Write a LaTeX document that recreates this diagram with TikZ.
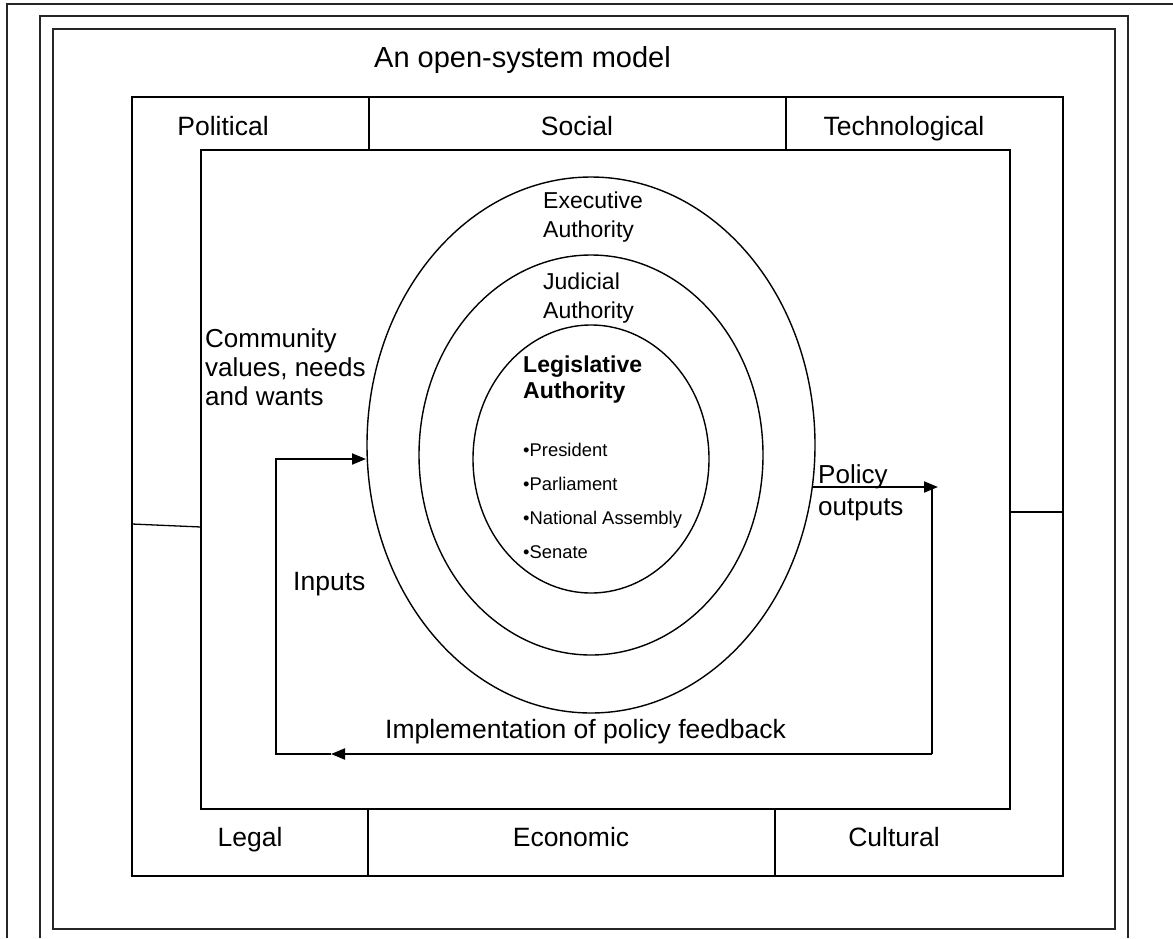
\documentclass[tikz,border=0pt]{standalone}
\usepackage{fontspec}
\setmainfont{Liberation Sans}
\usetikzlibrary{arrows.meta,shapes.geometric}
\begin{document}
\begin{tikzpicture}[x=1pt,y=-1pt,
  frame/.style={draw=black!85,line width=1.6pt},
  boxline/.style={draw=black,line width=1.3pt},
  oval/.style={ellipse,draw=black,line width=1.4pt,inner sep=0pt},
  flow/.style={draw=black,line width=2pt},
  tip/.style={-{Triangle[length=14pt,width=11pt]}},
  lbl/.style={font=\fontsize{26.5}{30}\selectfont,inner sep=0pt},
  ring/.style={font=\fontsize{23}{29}\selectfont,inner sep=0pt,align=left,anchor=north west},
]
\useasboundingbox (0,0) rectangle (1173,938);
\fill[white] (0,0) rectangle (1173,938);
% page frames
\draw[frame] (1173,4) -- (7,4) -- (7,938);
\draw[frame] (40,938) -- (40,16) -- (1128,16) -- (1128,938);
\draw[frame] (53,29) rectangle (1115,929);
% environment boxes
\node[boxline,minimum width=931pt,minimum height=779pt,inner sep=0pt] (env) at (597.5,486.5) {};
\node[boxline,minimum width=809pt,minimum height=659pt,inner sep=0pt] (sys) at (605.5,479.5) {};
\draw[boxline] (369,97) -- (369,150);
\draw[boxline] (786,97) -- (786,150);
\draw[boxline] (368,809) -- (368,876);
\draw[boxline] (775,809) -- (775,876);
\draw[boxline] (132,524) -- (201,527);
\draw[boxline] (1010,512) -- (1063,512);
% title
\node[font=\fontsize{29}{33}\selectfont,inner sep=0pt,anchor=base west] (title) at (374,67) {An open-system model};
% environment labels
\node[lbl,anchor=base] (pol) at (223,135) {Political};
\node[lbl,anchor=base] (soc) at (577,135) {Social};
\node[lbl,anchor=base] (tec) at (904,135) {Technological};
\node[lbl,anchor=base] (leg) at (250,846) {Legal};
\node[lbl,anchor=base] (eco) at (571,846) {Economic};
\node[lbl,anchor=base] (cul) at (894,846) {Cultural};
% ellipses
\node[oval,minimum width=448pt,minimum height=536pt] (exec) at (591,445) {};
\node[oval,minimum width=344pt,minimum height=400pt] (jud) at (591,455) {};
\node[oval,minimum width=236pt,minimum height=268pt] (legis) at (591,459) {};
% ring texts
\node[ring] (exect) at (543,191.5) {Executive\\Authority};
\node[ring] (judt) at (543,272.5) {Judicial\\Authority};
\node[ring,font=\fontsize{23}{26.5}\selectfont\bfseries] (legt) at (523,355.5) {Legislative\\Authority};
\node[ring,font=\fontsize{18.4}{34}\selectfont] (bul) at (523,442.8) {•President\\•Parliament\\•National Assembly\\•Senate};
% side texts
\node[ring,font=\fontsize{26}{29}\selectfont] (comm) at (205,328) {Community\\values, needs\\and wants};
\node[lbl,anchor=base west] (inp) at (293,590) {Inputs};
\node[ring,font=\fontsize{26}{32}\selectfont] (pout) at (818,464.3) {Policy\\outputs};
\node[lbl,anchor=base west] (impl) at (385,738) {Implementation of policy feedback};
% flow connectors
\coordinate (inTip) at (366,459);
\coordinate (inCorner) at (276,459);
\coordinate (fbLeft) at (276,754);
\coordinate (fbMid) at (331,754);
\coordinate (fbRight) at (932,754);
\coordinate (outStart) at (812,487);
\coordinate (outTip) at (938,487);
\coordinate (outCorner) at (932,489);
\draw[flow,tip] (outStart) -- (outTip);
\draw[flow] (outCorner) -- (fbRight);
\draw[flow,tip] (fbRight) -- (fbMid);
\draw[flow,tip] (fbMid) -- (fbLeft) -- (inCorner) -- (inTip);
\end{tikzpicture}
\end{document}
